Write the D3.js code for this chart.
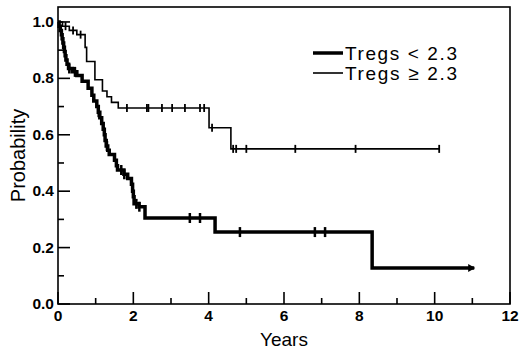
<!DOCTYPE html>
<html><head><meta charset="utf-8">
<script src="https://cdn.jsdelivr.net/npm/d3@7"></script>
<style>body{margin:0;background:#fff}svg{display:block}</style>
</head><body>
<script>
// ---- data ----
const lowTimes = [0,0.03,0.06,0.09,0.11,0.13,0.15,0.17,0.19,0.21,0.24,0.28,0.38,0.5,0.64,0.8,0.9,0.95,1.03,1.07,1.11,1.16,1.2,1.23,1.25,1.28,1.32,1.36,1.5,1.55,1.58,1.75,1.85,1.95,1.98,2.0,2.02,2.15,2.31,4.17,8.34];
const lowSurv  = [1.0,0.985,0.97,0.955,0.94,0.925,0.91,0.895,0.88,0.865,0.85,0.835,0.823,0.81,0.79,0.765,0.74,0.72,0.70,0.68,0.66,0.64,0.62,0.60,0.58,0.56,0.545,0.53,0.51,0.49,0.475,0.46,0.445,0.425,0.40,0.38,0.355,0.345,0.305,0.255,0.128];
const lowEnd = 11.05;
const lowCensor = [0.3,0.45,1.08,1.3,1.68,1.76,2.08,2.16,3.5,3.77,4.83,6.82,7.09];

const highTimes = [0,0.12,0.3,0.5,0.72,0.76,0.98,1.18,1.3,1.42,1.6,4.01,4.59];
const highSurv  = [1.0,0.985,0.97,0.955,0.91,0.86,0.795,0.755,0.735,0.715,0.695,0.625,0.55];
const highEnd = 10.12;
const highCensor = [0.2,0.4,0.6,1.83,2.36,2.4,2.76,3.03,3.37,3.77,3.88,4.09,4.65,4.73,5.0,6.3,7.9,10.12];

const xMajor = [0,2,4,6,8,10,12];
const xMinor = [1,3,5,7,9,11];
const yMajor = [0,0.2,0.4,0.6,0.8,1.0];
const yMinor = [0.1,0.3,0.5,0.7,0.9];
const legendLabels = ["Tregs < 2.3", "Tregs \u2265 2.3"];

// ---- chart ----
const W = 520, H = 358;
const svg = d3.select("body").append("svg").attr("width", W).attr("height", H);
const x = d3.scaleLinear().domain([0, 12]).range([58, 510]);
const y = d3.scaleLinear().domain([0, 1.053]).range([304, 7]);

// frame
svg.append("rect").attr("x", x(0)).attr("y", y(1.053))
  .attr("width", x(12) - x(0)).attr("height", y(0) - y(1.053))
  .attr("fill", "none").attr("stroke", "#000").attr("stroke-width", 1.6);

// ticks (inward)
const g = svg.append("g");
g.selectAll(".xM").data(xMajor).join("line")
  .attr("x1", d => x(d)).attr("x2", d => x(d)).attr("y1", y(0)).attr("y2", y(0) - 12)
  .attr("stroke", "#000").attr("stroke-width", 1.6);
g.selectAll(".xm").data(xMinor).join("line")
  .attr("x1", d => x(d)).attr("x2", d => x(d)).attr("y1", y(0)).attr("y2", y(0) - 6)
  .attr("stroke", "#000").attr("stroke-width", 1.6);
g.selectAll(".yM").data(yMajor).join("line")
  .attr("x1", x(0)).attr("x2", x(0) + 12).attr("y1", d => y(d)).attr("y2", d => y(d))
  .attr("stroke", "#000").attr("stroke-width", 1.6);
g.selectAll(".ym").data(yMinor).join("line")
  .attr("x1", x(0)).attr("x2", x(0) + 6).attr("y1", d => y(d)).attr("y2", d => y(d))
  .attr("stroke", "#000").attr("stroke-width", 1.6);

const tickFont = "'Liberation Sans', Arial, sans-serif";
svg.selectAll(".xl").data(xMajor).join("text")
  .attr("x", d => x(d)).attr("y", 321).attr("text-anchor", "middle")
  .attr("font-family", tickFont).attr("font-size", 15.5).attr("font-weight", "bold")
  .text(d => d);
svg.selectAll(".yl").data(yMajor).join("text")
  .attr("x", 54).attr("y", d => y(d) + 5).attr("text-anchor", "end")
  .attr("font-family", tickFont).attr("font-size", 15.5).attr("font-weight", "bold")
  .text(d => d3.format(".1f")(d));

svg.append("text").attr("x", (x(0) + x(12)) / 2).attr("y", 346).attr("text-anchor", "middle")
  .attr("font-family", tickFont).attr("font-size", 19).text("Years");
svg.append("text").attr("transform", `translate(25,${(y(0) + y(1.053)) / 2}) rotate(-90)`)
  .attr("text-anchor", "middle").attr("font-family", tickFont).attr("font-size", 20)
  .text("Probability");

// curves
function stepAt(times, surv, t) {
  let v = surv[0];
  for (let i = 0; i < times.length; i++) if (times[i] <= t) v = surv[i];
  return v;
}
function curvePts(times, surv, end) {
  const pts = times.map((t, i) => [t, surv[i]]);
  pts.push([end, surv[surv.length - 1]]);
  return pts;
}
const line = d3.line().x(d => x(d[0])).y(d => y(d[1])).curve(d3.curveStepAfter);

svg.append("path").datum(curvePts(highTimes, highSurv, highEnd)).attr("d", line)
  .attr("fill", "none").attr("stroke", "#000").attr("stroke-width", 1.6);
svg.selectAll(".hc").data(highCensor).join("line")
  .attr("x1", d => x(d)).attr("x2", d => x(d))
  .attr("y1", d => y(stepAt(highTimes, highSurv, d)) - 4)
  .attr("y2", d => y(stepAt(highTimes, highSurv, d)) + 4)
  .attr("stroke", "#000").attr("stroke-width", 1.8);

svg.append("path").datum(curvePts(lowTimes, lowSurv, lowEnd)).attr("d", line)
  .attr("fill", "none").attr("stroke", "#000").attr("stroke-width", 3.5);
svg.selectAll(".lc").data(lowCensor).join("line")
  .attr("x1", d => x(d)).attr("x2", d => x(d))
  .attr("y1", d => y(stepAt(lowTimes, lowSurv, d)) - 5)
  .attr("y2", d => y(stepAt(lowTimes, lowSurv, d)) + 5)
  .attr("stroke", "#000").attr("stroke-width", 2.5);
// end arrow
const ex = x(lowEnd), ey = y(lowSurv[lowSurv.length - 1]);
svg.append("path").attr("d", `M${ex - 6},${ey - 4}L${ex + 1},${ey}L${ex - 6},${ey + 4}Z`).attr("fill", "#000");

// legend
const legW = [3.5, 1.6];
legendLabels.forEach((lab, i) => {
  const ly = 53 + i * 20;
  svg.append("line").attr("x1", 313).attr("x2", 343).attr("y1", ly).attr("y2", ly)
    .attr("stroke", "#000").attr("stroke-width", legW[i]);
  svg.append("text").attr("x", 345).attr("y", ly + 7).attr("font-family", tickFont)
    .attr("font-size", 19).attr("textLength", 112).attr("lengthAdjust", "spacing").text(lab);
});
</script>
</body></html>
